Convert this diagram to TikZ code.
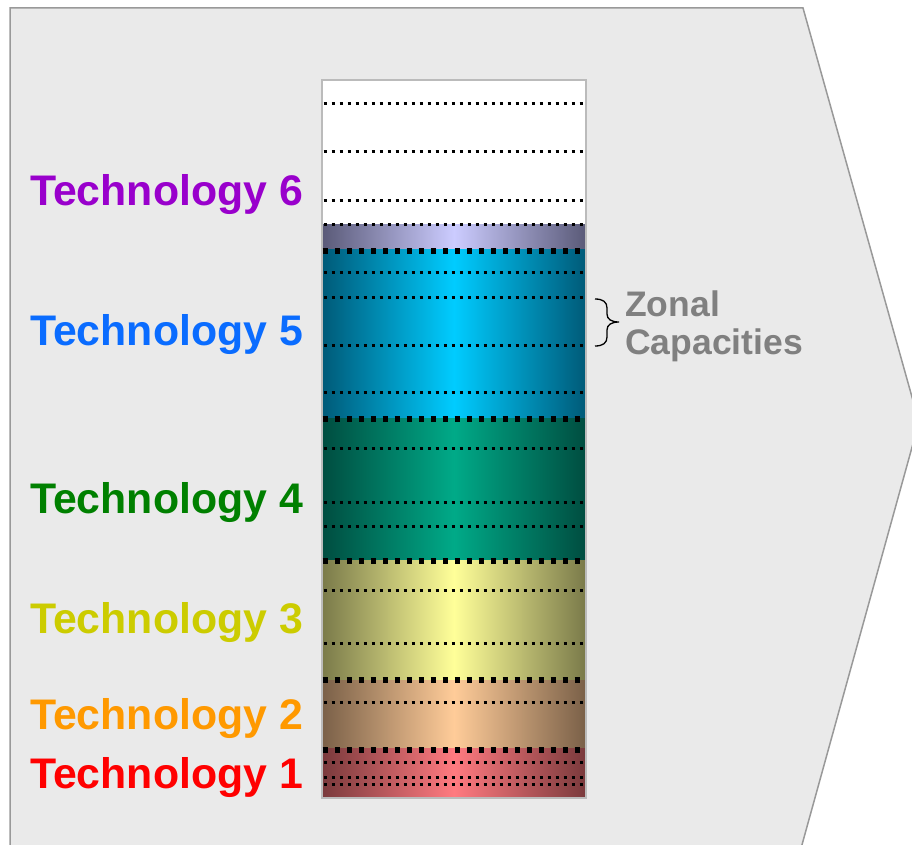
\documentclass[tikz,border=0pt]{standalone}
\usepackage{fontspec}
\setmainfont{Liberation Sans}
\definecolor{bgfill}{HTML}{EAEAEA}
\definecolor{bgline}{HTML}{999999}
\definecolor{barline}{HTML}{BBBBBB}
\definecolor{lavE}{HTML}{5A5A78}\definecolor{lavC}{HTML}{CCCCFF}
\definecolor{bluE}{HTML}{005A78}\definecolor{bluC}{HTML}{00CCFF}
\definecolor{grnE}{HTML}{004D40}\definecolor{grnC}{HTML}{00AA88}
\definecolor{yelE}{HTML}{7A7A4A}\definecolor{yelC}{HTML}{FFFF99}
\definecolor{orgE}{HTML}{7A6048}\definecolor{orgC}{HTML}{FFCC99}
\definecolor{redE}{HTML}{7A3A3C}\definecolor{redC}{HTML}{FF7A80}
\definecolor{tsix}{HTML}{9900CC}
\definecolor{tfive}{HTML}{0A6CFF}
\definecolor{tfour}{HTML}{008000}
\definecolor{tthree}{HTML}{CCCC00}
\definecolor{ttwo}{HTML}{FF9900}
\definecolor{tone}{HTML}{FF0000}
\definecolor{zonal}{HTML}{808080}
\tikzset{
  band/.style 2 args={left color=#1, right color=#1, middle color=#2},
  smalldots/.style={black, line width=3pt, dash pattern=on 3pt off 5pt},
  bigdots/.style={black, line width=5.5pt, dash pattern=on 5.5pt off 6.5pt},
  techlabel/.style={anchor=base west, inner sep=0pt, font=\fontsize{42.8}{48}\selectfont\bfseries},
}
\begin{document}
\begin{tikzpicture}[x=1pt,y=-1pt]
\useasboundingbox (0,0) rectangle (912,845);
% background arrow shape
\draw[fill=bgfill, draw=bgline, line width=1.5pt] (10,8) -- (803,8) -- (919,422) -- (795,870) -- (10,870) -- cycle;
% bands
\fill[white] (322,80) rectangle (586,224);
\shade[band={lavE}{lavC}] (322,224) rectangle (586,249);
\shade[band={bluE}{bluC}] (322,249) rectangle (586,418);
\shade[band={grnE}{grnC}] (322,418) rectangle (586,560);
\shade[band={yelE}{yelC}] (322,560) rectangle (586,680);
\shade[band={orgE}{orgC}] (322,680) rectangle (586,748);
\shade[band={redE}{redC}] (322,748) rectangle (586,798);
% bar outline
\draw[barline, line width=1.5pt] (322,80) rectangle (586,798);
% small dotted lines
\foreach \yy in {104,152,200,224,272,297,345,392,448,502,526,590,643,702,762,777,784}
  \draw[smalldots] (323.5,\yy) -- (584,\yy);
% thick dotted lines
\foreach \yy in {251,419,561,680,750}
  \draw[bigdots] (322.5,\yy) -- (584,\yy);
% labels
\node[techlabel, text=tsix] (t6) at (30,205) {Technology 6};
\node[techlabel, text=tfive] (t5) at (30,345) {Technology 5};
\node[techlabel, text=tfour] (t4) at (30,513) {Technology 4};
\node[techlabel, text=tthree] (t3) at (30,633) {Technology 3};
\node[techlabel, text=ttwo] (t2) at (30,729) {Technology 2};
\node[techlabel, text=tone] (t1) at (30,788) {Technology 1};
% zonal capacities brace
\coordinate (bt) at (595,299);
\coordinate (bb) at (595,346);
\draw[black, line width=1.3pt] (bt) .. controls (603,299) and (607,302) .. (607,308) -- (607,314)
  .. controls (607,319) and (611,322) .. (619,322)
  .. controls (611,322) and (607,325) .. (607,330) -- (607,337)
  .. controls (607,343) and (603,346) .. (bb);
\node[anchor=base west, inner sep=0pt, text=zonal, font=\fontsize{35.5}{38}\selectfont\bfseries, align=left] (zc) at (625,354) {Zonal\\Capacities};
\end{tikzpicture}
\end{document}
